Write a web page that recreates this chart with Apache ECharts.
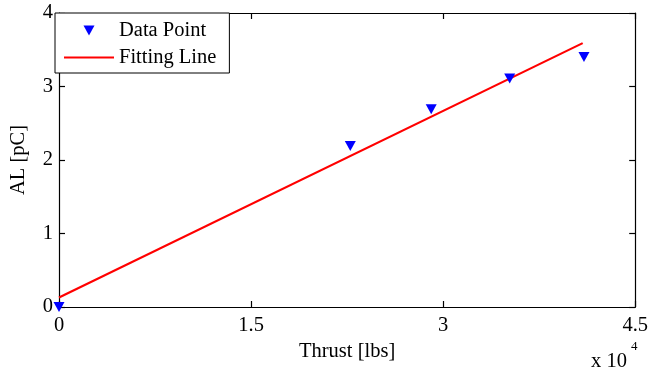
<!DOCTYPE html>
<html>
<head>
<meta charset="utf-8">
<script src="https://cdn.jsdelivr.net/npm/echarts@6/dist/echarts.min.js"></script>
<style>
  html, body { margin: 0; padding: 0; background: #fff; }
  #chart { width: 651px; height: 375px; }
</style>
</head>
<body>
<div id="chart"></div>
<script>
// Thrust in units of 10^4 lbs, AL charge in pC
const thrust = [0, 2.275, 2.907, 3.52, 4.10];
const charge = [0, 2.19, 2.69, 3.11, 3.40];

// Linear fit endpoints
const fitThrust = [0, 4.09];
const fitCharge = [0.13, 3.59];

const xTicks = [0, 1.5, 3, 4.5];
const yTicks = [0, 1, 2, 3, 4];

const FONT = "'Liberation Serif', 'Times New Roman', serif";

const chart = echarts.init(document.getElementById('chart'), null, { renderer: 'canvas' });

const axisLineStyle = { color: '#000', width: 1.2 };

function xAxisBase(extra) {
  return Object.assign({
    type: 'value',
    min: xTicks[0],
    max: xTicks[xTicks.length - 1],
    interval: xTicks[1] - xTicks[0],
    splitLine: { show: false },
    axisLine: { show: true, onZero: false, lineStyle: axisLineStyle },
    axisTick: { show: true, inside: true, length: 6, lineStyle: axisLineStyle }
  }, extra);
}

function yAxisBase(extra) {
  return Object.assign({
    type: 'value',
    min: yTicks[0],
    max: yTicks[yTicks.length - 1],
    interval: yTicks[1] - yTicks[0],
    splitLine: { show: false },
    axisLine: { show: true, onZero: false, lineStyle: axisLineStyle },
    axisTick: { show: true, inside: true, length: 6, lineStyle: axisLineStyle }
  }, extra);
}

const option = {
  backgroundColor: '#fff',
  animation: false,
  grid: { left: 55, right: 15, top: 13, bottom: 68, containLabel: false },
  legend: {
    orient: 'vertical',
    left: 55,
    top: 13,
    padding: [7, 13, 5, 9],
    itemWidth: 50,
    itemHeight: 10,
    itemGap: 6,
    backgroundColor: '#fff',
    borderColor: '#000',
    borderWidth: 1,
    borderRadius: 0,
    textStyle: { fontFamily: FONT, fontSize: 20.5, color: '#000', padding: [0, 0, 0, 0] },
    data: [
      { name: 'Data Point', icon: 'path://M0,0 L11,0 L5.5,10 Z' },
      { name: 'Fitting Line', icon: 'path://M0,0 L50,0 L50,2 L0,2 Z' }
    ]
  },
  xAxis: [
    xAxisBase({
      position: 'bottom',
      name: 'Thrust [lbs]',
      nameLocation: 'middle',
      nameGap: 33,
      nameTextStyle: { fontFamily: FONT, fontSize: 20.5, color: '#000' },
      axisLabel: {
        show: true, margin: 8, fontFamily: FONT, fontSize: 20.5, color: '#000',
        formatter: v => String(v)
      }
    }),
    xAxisBase({ position: 'top', axisLabel: { show: false } })
  ],
  yAxis: [
    yAxisBase({
      position: 'left',
      name: 'AL [pC]',
      nameLocation: 'middle',
      nameGap: 30,
      nameTextStyle: { fontFamily: FONT, fontSize: 20.5, color: '#000' },
      axisLabel: {
        show: true, margin: 6, fontFamily: FONT, fontSize: 20.5, color: '#000',
        formatter: v => String(v)
      }
    }),
    yAxisBase({ position: 'right', axisLabel: { show: false } })
  ],
  series: [
    {
      name: 'Fitting Line',
      type: 'line',
      xAxisIndex: 0,
      yAxisIndex: 0,
      data: fitThrust.map((x, i) => [x, fitCharge[i]]),
      symbol: 'none',
      showSymbol: false,
      lineStyle: { color: '#ff0000', width: 2.2 },
      itemStyle: { color: '#ff0000' },
      z: 2
    },
    {
      name: 'Data Point',
      type: 'scatter',
      xAxisIndex: 0,
      yAxisIndex: 0,
      data: thrust.map((x, i) => [x, charge[i]]),
      symbol: 'triangle',
      symbolRotate: 180,
      symbolSize: [11, 10],
      clip: false,
      itemStyle: { color: '#0000ff', opacity: 1 },
      z: 3
    }
  ],
  graphic: [
    {
      type: 'text',
      left: 591,
      top: 351,
      style: { text: 'x 10', font: '20.5px ' + FONT, fill: '#000' }
    },
    {
      type: 'text',
      left: 631,
      top: 340,
      style: { text: '4', font: '13px ' + FONT, fill: '#000' }
    }
  ]
};

chart.setOption(option);
</script>
</body>
</html>
